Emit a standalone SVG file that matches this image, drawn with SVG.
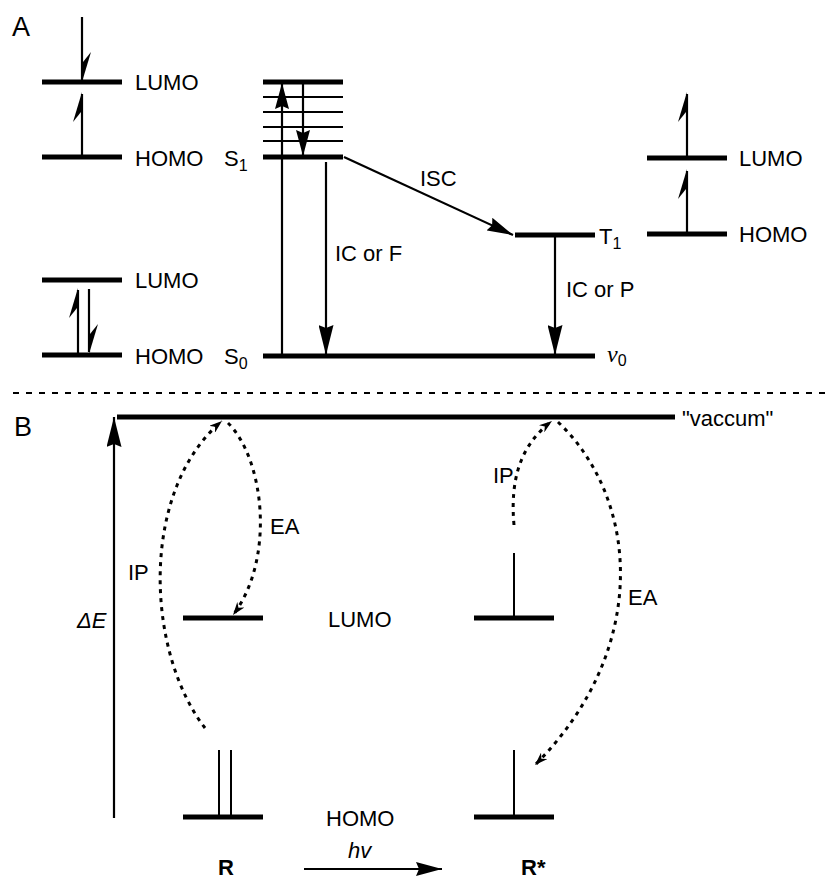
<svg xmlns="http://www.w3.org/2000/svg" width="826" height="882" viewBox="0 0 826 882">
<style>
text{font-family:"Liberation Sans",Arial,sans-serif;font-size:22px;fill:#000}
.lbl{font-size:27px}
.sub{font-size:16px}
.bar{stroke:#000;stroke-width:5;fill:none}
.thin{stroke:#000;stroke-width:2;fill:none}
.ln{stroke:#000;stroke-width:2.2;fill:none}
.dot{stroke:#000;stroke-width:3;fill:none;stroke-dasharray:4 5}
.hp{fill:#000}
</style>
<defs>
<marker id="big" viewBox="0 0 30 15" refX="30" refY="7.5" markerWidth="30" markerHeight="15" markerUnits="userSpaceOnUse" orient="auto"><path d="M0,0 L30,7.5 L0,15 L3,7.5 z" fill="#000"/></marker>
<marker id="small" viewBox="0 0 26 14" refX="26" refY="7" markerWidth="26" markerHeight="14" markerUnits="userSpaceOnUse" orient="auto"><path d="M0,0 L26,7 L0,14 L3,7 z" fill="#000"/></marker>
<marker id="da" viewBox="0 0 13 9" refX="13" refY="4.5" markerWidth="13" markerHeight="9" markerUnits="userSpaceOnUse" orient="auto"><path d="M0,0 L13,4.5 L0,9 L4,4.5 z" fill="#000"/></marker>
</defs>

<text class="lbl" x="12" y="36">A</text>
<text class="lbl" x="14" y="436">B</text>

<g id="mo-s1">
<line class="bar" x1="42" y1="82" x2="122" y2="82"/>
<line class="bar" x1="42" y1="157" x2="122" y2="157"/>
<line class="ln" x1="82" y1="17" x2="82" y2="80"/>
<polygon class="hp" points="82,82 91,52 83,62"/>
<line class="ln" x1="82" y1="157" x2="82" y2="94"/>
<polygon class="hp" points="82,92 73,122 81,112"/>
<text x="135" y="90">LUMO</text>
<text x="135" y="166">HOMO</text>
</g>

<g id="mo-s0">
<line class="bar" x1="42" y1="280" x2="122" y2="280"/>
<line class="bar" x1="42" y1="355" x2="122" y2="355"/>
<line class="ln" x1="78" y1="355" x2="78" y2="290"/>
<polygon class="hp" points="78,288 69,318 77,308"/>
<line class="ln" x1="89" y1="289" x2="89" y2="352"/>
<polygon class="hp" points="89,354 98,324 90,334"/>
<text x="135" y="288">LUMO</text>
<text x="135" y="364">HOMO</text>
</g>

<g id="s1">
<line class="bar" x1="263" y1="82" x2="343" y2="82"/>
<line class="thin" x1="263" y1="97" x2="343" y2="97"/>
<line class="thin" x1="263" y1="112" x2="343" y2="112"/>
<line class="thin" x1="263" y1="127" x2="343" y2="127"/>
<line class="thin" x1="263" y1="141" x2="343" y2="141"/>
<line class="bar" x1="263" y1="157" x2="343" y2="157"/>
<text x="224" y="166">S<tspan class="sub" dy="5">1</tspan></text>
</g>

<g id="s0">
<line class="bar" x1="263" y1="356" x2="595" y2="356"/>
<text x="224" y="364">S<tspan class="sub" dy="5">0</tspan></text>
<text x="607" y="362" style="font-family:'Liberation Serif','Times New Roman',serif;font-style:italic;font-size:24px">ν<tspan class="sub" style="font-family:'Liberation Sans',Arial,sans-serif;font-style:normal" dy="4">0</tspan></text>
</g>

<g id="t1">
<line class="bar" x1="515" y1="235" x2="595" y2="235"/>
<text x="599" y="244">T<tspan class="sub" dy="5">1</tspan></text>
</g>

<g id="mo-t1">
<line class="bar" x1="647" y1="158" x2="727" y2="158"/>
<line class="bar" x1="647" y1="234" x2="727" y2="234"/>
<line class="ln" x1="687" y1="234" x2="687" y2="171"/>
<polygon class="hp" points="687,169 678,199 686,189"/>
<line class="ln" x1="687" y1="158" x2="687" y2="94"/>
<polygon class="hp" points="687,92 678,122 686,112"/>
<text x="739" y="166">LUMO</text>
<text x="739" y="242">HOMO</text>
</g>

<g id="connectors">
<line class="ln" x1="282" y1="356" x2="282" y2="83" marker-end="url(#small)"/>
<line class="ln" x1="303" y1="82" x2="303" y2="156" marker-end="url(#small)"/>
<line class="ln" x1="326" y1="162" x2="326" y2="355" marker-end="url(#big)"/>
<line class="ln" x1="344" y1="157" x2="513" y2="235" marker-end="url(#small)"/>
<line class="ln" x1="555" y1="237" x2="555" y2="355" marker-end="url(#big)"/>
<line x1="13" y1="393" x2="826" y2="393" stroke="#000" stroke-width="2" stroke-dasharray="6 7"/>
<line class="ln" x1="114" y1="818" x2="114" y2="417" marker-end="url(#big)"/>
<path class="dot" d="M205,728 C145,650 140,490 222,421" marker-end="url(#da)"/>
<path class="dot" d="M228,423 C265,460 275,560 233,615" marker-end="url(#da)"/>
<path class="dot" d="M514,525 C510,480 520,445 552,421" marker-end="url(#da)"/>
<path class="dot" d="M558,422 C640,500 650,650 535,765" marker-end="url(#da)"/>
<line class="ln" x1="304" y1="869" x2="442" y2="869" marker-end="url(#small)"/>
</g>
<text x="420" y="186">ISC</text>
<text x="335" y="261">IC or F</text>
<text x="566" y="297">IC or P</text>

<g id="vacuum">
<line class="bar" x1="117" y1="417" x2="675" y2="417"/>
<text x="682" y="426">"vaccum"</text>
</g>
<text x="77" y="628" style="font-style:italic">ΔE</text>
<text x="128" y="580">IP</text>
<text x="270" y="534">EA</text>
<text x="493" y="483">IP</text>
<text x="628" y="605">EA</text>

<g id="r-levels">
<line class="bar" x1="183" y1="618" x2="263" y2="618"/>
<line class="bar" x1="183" y1="817" x2="263" y2="817"/>
<line class="thin" x1="219" y1="750" x2="219" y2="817"/>
<line class="thin" x1="231" y1="750" x2="231" y2="817"/>
<text x="218" y="875" style="font-weight:bold">R</text>
</g>
<g id="rstar-levels">
<line class="bar" x1="474" y1="618" x2="554" y2="618"/>
<line class="bar" x1="474" y1="817" x2="554" y2="817"/>
<line class="thin" x1="514" y1="553" x2="514" y2="618"/>
<line class="thin" x1="514" y1="750" x2="514" y2="817"/>
<text x="521" y="875" style="font-weight:bold">R*</text>
</g>
<text x="328" y="627">LUMO</text>
<text x="326" y="826">HOMO</text>
<text x="348" y="858" style="font-style:italic">hv</text>
</svg>
